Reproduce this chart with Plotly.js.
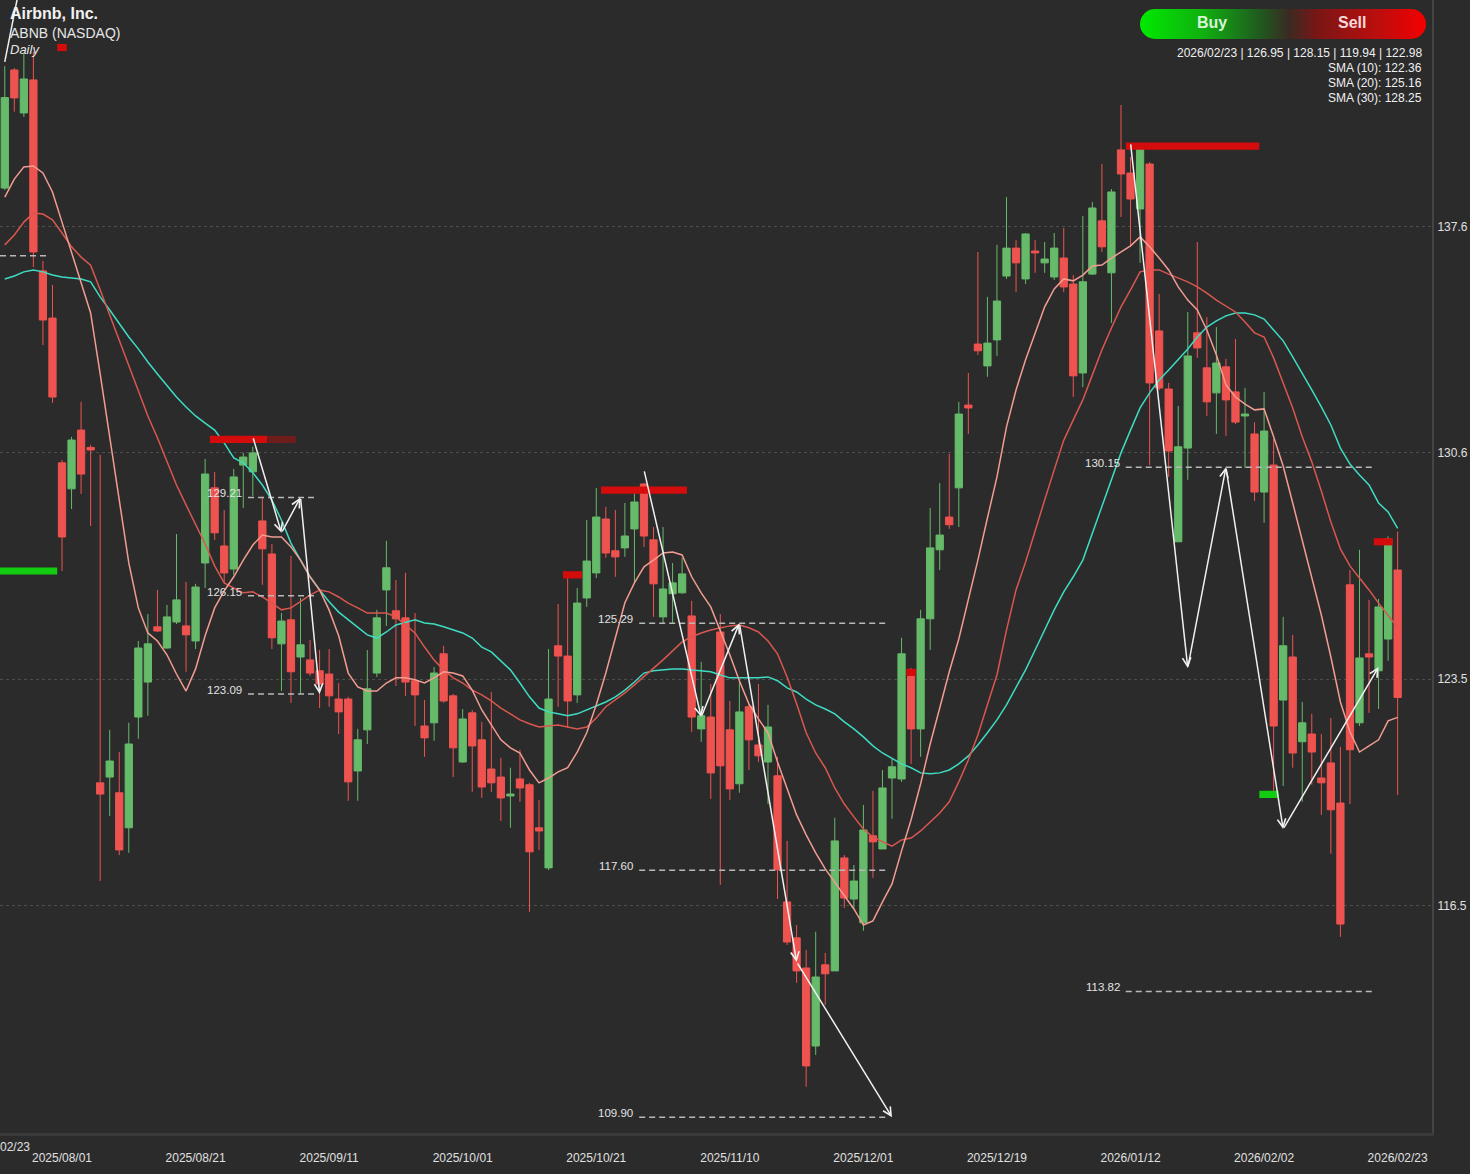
<!DOCTYPE html>
<html>
<head>
<meta charset="utf-8">
<script src="https://cdn.plot.ly/plotly-3.0.1.min.js"></script>
<style>
html,body{margin:0;padding:0;background:#2b2b2b;}
#chart{width:1470px;height:1174px;}
</style>
</head>
<body>
<div id="chart"></div>
<script>
// ---------------- DATA ----------------
const company = "Airbnb, Inc.";
const ticker = "ABNB (NASDAQ)";
const interval = "Daily";

const dates = [
"2025/07/24","2025/07/25","2025/07/28","2025/07/29","2025/07/30","2025/07/31",
"2025/08/01","2025/08/04","2025/08/05","2025/08/06","2025/08/07","2025/08/08","2025/08/11","2025/08/12","2025/08/13","2025/08/14","2025/08/15","2025/08/18","2025/08/19","2025/08/20","2025/08/21","2025/08/22","2025/08/25","2025/08/26","2025/08/27","2025/08/28","2025/08/29",
"2025/09/02","2025/09/03","2025/09/04","2025/09/05","2025/09/08","2025/09/09","2025/09/10","2025/09/11","2025/09/12","2025/09/15","2025/09/16","2025/09/17","2025/09/18","2025/09/19","2025/09/22","2025/09/23","2025/09/24","2025/09/25","2025/09/26","2025/09/29","2025/09/30",
"2025/10/01","2025/10/02","2025/10/03","2025/10/06","2025/10/07","2025/10/08","2025/10/09","2025/10/10","2025/10/13","2025/10/14","2025/10/15","2025/10/16","2025/10/17","2025/10/20","2025/10/21","2025/10/22","2025/10/23","2025/10/24","2025/10/27","2025/10/28","2025/10/29","2025/10/30","2025/10/31",
"2025/11/03","2025/11/04","2025/11/05","2025/11/06","2025/11/07","2025/11/10","2025/11/11","2025/11/12","2025/11/13","2025/11/14","2025/11/17","2025/11/18","2025/11/19","2025/11/20","2025/11/21","2025/11/24","2025/11/25","2025/11/26","2025/11/28",
"2025/12/01","2025/12/02","2025/12/03","2025/12/04","2025/12/05","2025/12/08","2025/12/09","2025/12/10","2025/12/11","2025/12/12","2025/12/15","2025/12/16","2025/12/17","2025/12/18","2025/12/19","2025/12/22","2025/12/23","2025/12/24","2025/12/26","2025/12/29","2025/12/30","2025/12/31",
"2026/01/02","2026/01/05","2026/01/06","2026/01/07","2026/01/08","2026/01/09","2026/01/12","2026/01/13","2026/01/14","2026/01/15","2026/01/16","2026/01/20","2026/01/21","2026/01/22","2026/01/23","2026/01/26","2026/01/27","2026/01/28","2026/01/29","2026/01/30",
"2026/02/02","2026/02/03","2026/02/04","2026/02/05","2026/02/06","2026/02/09","2026/02/10","2026/02/11","2026/02/12","2026/02/13","2026/02/17","2026/02/18","2026/02/19","2026/02/20","2026/02/23"
];

const openP = [
138.85,142.53,141.19,142.22,136.27,134.80,130.29,129.48,131.31,130.77,
120.32,120.50,120.01,118.92,122.37,123.46,125.18,124.52,125.33,125.21,
124.74,127.17,129.51,127.70,126.98,130.22,130.01,128.48,127.45,124.65,
125.40,124.24,124.15,123.81,123.71,122.93,122.93,120.69,121.97,123.74,
126.33,125.68,125.46,123.50,122.09,122.19,124.34,123.03,120.97,122.50,
121.66,120.75,120.50,119.91,120.44,120.26,118.92,117.67,124.59,124.27,
123.06,126.08,126.86,128.54,127.55,127.64,128.23,129.63,127.89,125.49,
126.21,126.24,125.52,122.00,122.37,125.02,121.97,120.29,122.69,121.50,
120.97,120.54,116.61,115.49,114.55,112.12,114.65,114.46,117.98,116.70,
115.96,118.67,118.26,120.47,120.44,123.65,122.00,125.43,127.58,128.60,
129.51,132.09,133.99,133.31,134.12,136.11,136.98,136.02,136.89,136.52,
136.08,136.67,135.86,133.09,136.17,137.83,136.21,140.04,139.32,138.20,
139.60,134.40,132.59,127.83,130.75,134.34,133.25,132.47,133.28,132.50,
131.75,131.19,129.38,130.22,122.90,124.24,121.60,121.84,120.47,120.94,
119.69,126.49,122.19,124.34,123.81,124.80,126.95
];
const highP = [
142.65,142.59,143.06,143.09,136.58,135.83,130.38,131.10,132.19,130.85,
130.54,121.97,121.28,122.19,124.74,125.58,126.33,125.86,128.07,126.58,
126.52,130.41,130.01,128.82,130.10,130.60,130.79,129.23,127.76,125.61,
127.39,126.08,124.77,124.46,124.49,123.43,123.00,122.00,124.46,125.71,
127.86,126.64,126.86,125.61,122.90,123.93,124.59,123.09,122.62,122.59,
122.22,123.15,121.10,120.79,121.35,120.32,119.79,124.49,125.89,126.74,
126.39,128.51,129.51,128.92,128.82,129.04,129.45,129.66,128.29,128.29,
127.17,127.33,125.99,124.09,123.40,125.58,122.87,123.46,122.78,123.40,
122.75,121.13,118.51,115.89,115.11,115.68,115.02,119.23,118.07,117.76,
119.63,120.07,120.72,121.07,124.84,123.90,125.71,128.88,129.66,130.57,
132.19,133.09,136.86,135.46,137.08,138.57,137.23,137.45,137.23,137.17,
137.45,137.61,136.14,137.98,138.42,139.60,138.82,141.44,139.82,140.19,
139.66,135.55,132.78,132.06,134.99,137.17,134.83,134.52,133.53,134.15,
132.62,131.56,132.50,131.03,125.49,124.93,122.84,122.47,121.84,122.34,
121.44,126.95,127.58,126.02,126.05,128.00,128.15
];
const lowP = [
138.79,141.23,141.07,136.39,133.96,132.16,126.92,128.85,129.32,128.32,
117.26,119.29,118.07,118.14,121.69,122.41,125.02,124.50,125.27,123.78,
124.49,126.39,127.89,126.55,126.80,128.88,129.26,126.49,124.49,123.18,
122.81,123.09,123.65,122.65,122.69,121.84,119.76,119.76,121.53,123.62,
125.21,123.34,123.03,122.09,121.13,121.63,122.81,120.50,120.94,120.04,
119.85,120.04,119.13,118.92,119.73,116.30,118.23,117.60,122.69,122.03,
122.81,125.80,126.70,127.33,126.74,127.36,126.55,127.67,125.49,125.30,
125.30,126.21,121.91,121.60,119.82,117.14,119.79,120.01,120.72,120.97,
119.66,116.70,115.27,114.09,110.85,111.84,113.40,114.46,116.42,116.39,
115.71,117.36,118.26,119.20,120.35,120.91,121.13,124.46,126.95,128.23,
128.29,131.19,133.65,132.97,133.62,136.02,135.61,135.86,136.21,136.21,
135.99,135.61,132.34,132.65,136.14,136.86,134.65,137.95,137.02,136.52,
130.22,132.55,129.85,127.83,129.76,133.56,131.75,131.19,131.13,131.50,
130.13,129.10,128.42,119.97,120.22,120.79,119.73,120.26,119.32,118.11,
115.52,119.66,122.09,122.50,122.62,124.12,119.94
];
const closeP = [
141.67,141.66,142.25,136.86,134.74,132.34,127.98,131.00,129.94,130.69,
119.97,121.00,118.23,121.53,124.52,124.65,125.05,125.49,126.02,124.93,
126.42,129.94,128.11,126.86,129.85,130.47,130.60,127.61,124.84,125.36,
123.78,124.62,123.74,123.40,123.03,122.53,120.35,121.66,123.25,125.46,
127.02,125.43,123.46,123.06,121.72,123.74,122.87,121.41,122.31,121.47,
120.19,120.32,119.85,119.97,120.16,118.17,118.82,122.93,124.27,122.87,
125.92,127.23,128.60,127.48,127.36,128.01,129.07,128.01,126.52,126.36,
126.55,126.83,122.37,122.41,120.63,120.85,120.13,122.53,121.66,121.16,
122.06,117.61,115.36,114.46,111.50,114.27,114.37,118.51,116.73,117.26,
118.85,118.48,120.16,120.82,124.34,122.00,125.43,127.64,128.04,128.36,
131.81,132.00,133.78,134.02,135.33,136.98,136.52,137.42,136.83,136.64,
136.98,135.77,133.00,135.93,138.23,137.02,138.73,139.29,138.51,140.07,
132.78,132.62,130.66,130.79,133.62,133.87,132.19,133.40,132.25,131.56,
131.81,129.38,131.28,122.09,124.59,121.25,122.19,121.28,120.32,119.48,
115.92,121.35,124.21,124.24,125.80,127.92,122.98
];

const sma10 = [
138.57,139.13,139.51,139.54,139.32,138.73,137.79,136.86,135.89,134.96,
133.06,131.13,129.07,127.17,125.77,124.99,124.74,124.31,123.71,123.18,
123.87,124.90,125.77,126.30,126.74,127.26,127.73,128.04,127.98,127.98,
127.67,127.26,126.74,126.33,125.70,124.90,123.74,123.31,123.18,123.18,
123.43,123.59,123.59,123.53,123.43,123.59,123.78,123.74,123.65,123.21,
122.59,122.12,121.66,121.41,121.25,120.72,120.32,120.47,120.66,120.79,
121.28,121.88,122.75,123.74,124.83,125.93,126.55,127.05,127.26,127.48,
127.51,127.42,126.74,126.24,125.80,125.08,124.31,123.50,122.78,122.31,
121.88,120.97,120.16,119.32,118.70,118.14,117.64,117.23,116.80,116.39,
115.89,116.02,116.61,117.17,118.20,119.17,120.29,121.53,122.65,123.78,
124.80,126.02,127.26,128.57,129.85,131.41,132.56,133.50,134.34,135.15,
135.71,136.02,135.96,136.14,136.42,136.45,136.67,136.86,137.05,137.33,
137.02,136.67,136.30,135.77,135.36,135.05,134.43,133.65,132.72,132.34,
132.12,131.94,131.97,131.10,130.19,129.04,127.86,126.70,125.55,124.24,
122.84,121.91,121.28,121.47,121.66,122.25,122.36
];
const sma20 = [
137.08,137.39,137.79,138.07,138.04,137.86,137.45,137.02,136.70,136.45,
135.68,134.90,134.06,133.34,132.53,131.75,131.07,130.32,129.60,128.98,
128.39,127.76,127.08,126.55,126.39,126.24,126.27,126.11,125.92,125.71,
125.77,125.96,126.17,126.33,126.27,126.11,125.92,125.77,125.61,125.61,
125.61,125.49,125.24,124.99,124.55,124.15,123.84,123.59,123.43,123.21,
123.06,122.87,122.65,122.47,122.28,122.16,122.06,122.09,122.12,122.06,
122.00,122.06,122.34,122.69,122.90,123.12,123.37,123.62,123.90,124.15,
124.43,124.71,124.87,124.99,125.08,125.15,125.21,125.24,125.15,125.02,
124.74,124.34,123.62,122.78,121.88,121.25,120.79,120.16,119.66,119.26,
118.88,118.63,118.48,118.35,118.54,118.60,118.82,119.10,119.38,119.73,
120.35,121.03,121.81,122.75,123.68,125.08,126.33,127.20,128.20,129.13,
130.07,130.99,131.63,132.25,133.03,133.81,134.49,135.15,135.68,136.24,
136.30,136.30,136.17,136.05,135.93,135.77,135.58,135.36,135.18,134.99,
134.68,134.34,134.21,133.56,132.78,132.00,131.10,130.32,129.41,128.45,
127.61,127.08,126.70,126.33,125.92,125.55,125.16
];
const sma30 = [
136.02,136.11,136.24,136.30,136.24,136.14,136.08,136.05,136.02,135.93,
135.46,135.05,134.62,134.21,133.84,133.43,133.06,132.69,132.34,132.03,
131.75,131.53,131.31,130.91,130.44,130.29,129.98,129.60,129.13,128.51,
127.79,127.26,126.74,126.33,125.96,125.64,125.40,125.15,124.93,124.83,
125.02,125.24,125.33,125.40,125.30,125.27,125.18,125.08,124.99,124.83,
124.55,124.40,124.12,123.84,123.43,123.00,122.65,122.53,122.47,122.41,
122.47,122.59,122.72,122.84,123.00,123.21,123.46,123.74,123.81,123.84,
123.87,123.87,123.84,123.81,123.78,123.68,123.59,123.59,123.59,123.59,
123.62,123.50,123.28,123.15,122.93,122.75,122.62,122.47,122.22,122.00,
121.75,121.47,121.25,121.07,120.91,120.79,120.63,120.60,120.63,120.72,
120.91,121.16,121.50,121.88,122.28,122.75,123.28,123.84,124.46,125.08,
125.71,126.27,126.74,127.26,128.11,128.92,129.76,130.60,131.31,132.00,
132.47,132.87,133.18,133.50,133.84,134.21,134.52,134.71,134.87,134.96,
134.96,134.90,134.77,134.43,134.09,133.59,133.09,132.56,132.03,131.47,
130.75,130.25,129.91,129.60,129.04,128.76,128.25
];

const tickDates = ["2025/08/01","2025/08/21","2025/09/11","2025/10/01","2025/10/21","2025/11/10","2025/12/01","2025/12/19","2026/01/12","2026/02/02","2026/02/23"];
const yTickVals = [116.5, 123.55, 130.6, 137.65];
const yTickText = ["116.5","123.5","130.6","137.6"];

// horizontal support / resistance levels
const levelValues = [136.74, 129.21, 126.15, 123.09, 125.29, 117.60, 109.90, 130.15, 113.82];
const levelStart  = ["2025/07/24","2025/08/29","2025/08/29","2025/08/29","2025/10/28","2025/10/28","2025/10/28","2026/01/12","2026/01/12"];
const levelEnd    = ["2025/07/30","2025/09/09","2025/09/09","2025/09/09","2025/12/03","2025/12/03","2025/12/03","2026/02/18","2026/02/18"];

// zig-zag wave arrows
const zigDates = [
  ["2025/08/29","2025/09/04","2025/09/08","2025/09/10"],
  ["2025/10/28","2025/11/05","2025/11/11","2025/11/19","2025/12/04"],
  ["2026/01/12","2026/01/21","2026/01/27","2026/02/04","2026/02/19"]
];
const zigPrices = [
  [131.10, 128.11, 129.21, 123.09],
  [130.07, 122.37, 125.29, 114.74, 109.90],
  [140.26, 123.90, 130.15, 118.88, 123.93]
];
const trendDates = ["2025/07/24","2025/07/28"];
const trendPrices = [142.78, 145.79];

// buy / sell signal bars
const signalStart = ["2025/08/01","2025/08/25","2025/09/03","2025/10/22","2025/10/16","2025/12/08","2026/01/12","2025/07/24","2026/02/02","2026/02/19"];
const signalEnd   = ["2025/08/01","2025/09/02","2025/09/05","2025/11/03","2025/10/17","2025/12/08","2026/01/30","2025/07/31","2026/02/03","2026/02/20"];
const signalPrice = [143.23, 131.02, 131.02, 129.44, 126.80, 123.76, 140.16, 126.92, 119.96, 127.83];
const signalType  = ["sell","sell","sellFaded","sell","sell","sell","sell","buy","buy","sell"];

// ---------------- STYLE ----------------
const BG = "#2b2b2b";
const UP = "#66bb6a", DOWN = "#ef5350";
const FONT = "Liberation Sans, Arial, Helvetica, sans-serif";
const signalColor = {sell:"#d40c0c", sellFaded:"#6e1c1c", buy:"#11cc11"};

const idx = d => dates.indexOf(d);
const xIdx = dates.map((d, k) => k);

const traces = [
  {
    type: "candlestick", x: xIdx, open: openP, high: highP, low: lowP, close: closeP,
    increasing: {line: {color: UP, width: 1}, fillcolor: UP},
    decreasing: {line: {color: DOWN, width: 1}, fillcolor: DOWN},
    whiskerwidth: 0, hoverinfo: "skip", showlegend: false
  },
  {type: "scatter", mode: "lines", x: xIdx, y: sma30, line: {color: "#3fdcc4", width: 1.5}, hoverinfo: "skip"},
  {type: "scatter", mode: "lines", x: xIdx, y: sma20, line: {color: "#d9574f", width: 1.5}, hoverinfo: "skip"},
  {type: "scatter", mode: "lines", x: xIdx, y: sma10, line: {color: "#f29c92", width: 1.5}, hoverinfo: "skip"},
  {type: "scatter", mode: "lines", x: trendDates.map(idx), y: trendPrices, line: {color: "#f0f0f0", width: 1.5}, hoverinfo: "skip"}
];

const shapes = [];
const annotations = [];

levelValues.forEach((v, k) => {
  const x0 = idx(levelStart[k]) - 0.5, x1 = idx(levelEnd[k]) + 0.5;
  shapes.push({type: "line", xref: "x", yref: "y", x0: x0, x1: x1, y0: v, y1: v,
    line: {color: "#b8b8b8", width: 1.5, dash: "6px,4px"}, layer: "above"});
  if (x0 > 0) {
    annotations.push({xref: "x", yref: "y", x: x0, y: v, text: v.toFixed(2), showarrow: false,
      xanchor: "right", yanchor: "middle", xshift: -4, yshift: 4,
      font: {family: FONT, size: 11.5, color: "#e2e2e2"}});
  }
});

signalPrice.forEach((p, k) => {
  shapes.push({type: "rect", xref: "x", yref: "y",
    x0: idx(signalStart[k]) - 0.5, x1: idx(signalEnd[k]) + 0.5,
    ysizemode: "pixel", yanchor: p, y0: -3.6, y1: 3.6,
    fillcolor: signalColor[signalType[k]], line: {width: 0}, layer: "above"});
});

zigDates.forEach((ds, g) => {
  for (let k = 1; k < ds.length; k++) {
    annotations.push({xref: "x", yref: "y", axref: "x", ayref: "y",
      x: idx(ds[k]), y: zigPrices[g][k], ax: idx(ds[k-1]), ay: zigPrices[g][k-1],
      text: "", showarrow: true, arrowhead: 5, arrowsize: 1.1, arrowwidth: 1.5,
      arrowcolor: "#f0f0f0", standoff: 0, startstandoff: 0});
  }
});

// header texts
const W = 1432, H = 1133;
const px = x => x / W, py = y => 1 - y / H;
annotations.push(
  {xref: "paper", yref: "paper", x: px(8), y: py(14), xanchor: "left", yanchor: "middle", showarrow: false,
   text: "<b>" + company + "</b>", font: {family: FONT, size: 16, color: "#f2f2f2"}},
  {xref: "paper", yref: "paper", x: px(8), y: py(33), xanchor: "left", yanchor: "middle", showarrow: false,
   text: ticker, font: {family: FONT, size: 14, color: "#e6e6e6"}},
  {xref: "paper", yref: "paper", x: px(8), y: py(49), xanchor: "left", yanchor: "middle", showarrow: false,
   text: "<i>" + interval + "</i>", font: {family: FONT, size: 13, color: "#e6e6e6"}}
);

const last = dates.length - 1;
const infoLines = [
  [dates[last], openP[last].toFixed(2), highP[last].toFixed(2), lowP[last].toFixed(2), closeP[last].toFixed(2)].join(" | "),
  "SMA (10): " + sma10[last].toFixed(2),
  "SMA (20): " + sma20[last].toFixed(2),
  "SMA (30): " + sma30[last].toFixed(2)
];
infoLines.forEach((t, k) => {
  annotations.push({xref: "paper", yref: "paper", x: px(1424), y: py(53 + 15 * k), xanchor: "right", yanchor: "middle",
    showarrow: false, text: t, font: {family: FONT, size: 12, color: "#f0f0f0"}});
});

annotations.push(
  {xref: "paper", yref: "paper", x: px(1212), y: py(23), xanchor: "center", yanchor: "middle", showarrow: false,
   text: "<b>Buy</b>", font: {family: FONT, size: 16, color: "#d6f5d6"}},
  {xref: "paper", yref: "paper", x: px(1352), y: py(23), xanchor: "center", yanchor: "middle", showarrow: false,
   text: "<b>Sell</b>", font: {family: FONT, size: 16, color: "#f8d8d8"}},
  {xref: "paper", yref: "paper", x: 0, y: py(1147), xanchor: "left", yanchor: "middle", xshift: -2, showarrow: false,
   text: tickDates[tickDates.length - 1].slice(5), font: {family: FONT, size: 12, color: "#e0e0e0"}}
);

const btnSvg = "<svg xmlns='http://www.w3.org/2000/svg' width='286' height='30' viewBox='0 0 286 30'>" +
  "<defs><linearGradient id='g' x1='0' x2='1' y1='0' y2='0'>" +
  "<stop offset='0' stop-color='#00ea00'/><stop offset='0.22' stop-color='#10b010'/>" +
  "<stop offset='0.42' stop-color='#1f5a1f'/><stop offset='0.52' stop-color='#3a2a22'/>" +
  "<stop offset='0.62' stop-color='#7a1616'/><stop offset='0.82' stop-color='#b80e0e'/>" +
  "<stop offset='1' stop-color='#f40000'/></linearGradient></defs>" +
  "<rect x='0' y='0' width='286' height='30' rx='15' ry='15' fill='url(#g)'/></svg>";

const layout = {
  width: 1470, height: 1174,
  margin: {l: 0, r: 38, t: 0, b: 41, pad: 0},
  paper_bgcolor: BG, plot_bgcolor: BG,
  showlegend: false, hovermode: false, dragmode: false,
  boxgap: 0.24, boxgroupgap: 0,
  font: {family: FONT, color: "#e0e0e0", size: 12},
  xaxis: {
    type: "linear", range: [-0.5, 149.6], rangeslider: {visible: false},
    tickvals: tickDates.map(idx), ticktext: tickDates,
    ticks: "outside", ticklen: 12, tickcolor: "rgba(0,0,0,0)",
    tickfont: {family: FONT, size: 12, color: "#e0e0e0"},
    showgrid: false, zeroline: false,
    showline: true, linecolor: "#3a3a3a", linewidth: 3
  },
  yaxis: {
    side: "right", range: [109.41, 144.71],
    tickvals: yTickVals, ticktext: yTickText,
    ticks: "outside", ticklen: 1, tickcolor: "rgba(0,0,0,0)",
    tickfont: {family: FONT, size: 12, color: "#e0e0e0"},
    showgrid: true, gridcolor: "#4e4e4e", griddash: "dot", gridwidth: 1,
    zeroline: false, showline: true, linecolor: "#444444", linewidth: 2
  },
  shapes: shapes,
  annotations: annotations,
  images: [{
    source: "data:image/svg+xml;charset=utf-8," + encodeURIComponent(btnSvg),
    xref: "paper", yref: "paper", x: px(1140), y: py(9), sizex: 286 / W, sizey: 30 / H,
    xanchor: "left", yanchor: "top", sizing: "stretch", layer: "above"
  }]
};

Plotly.newPlot("chart", traces, layout, {displayModeBar: false, staticPlot: true});
</script>
</body>
</html>
